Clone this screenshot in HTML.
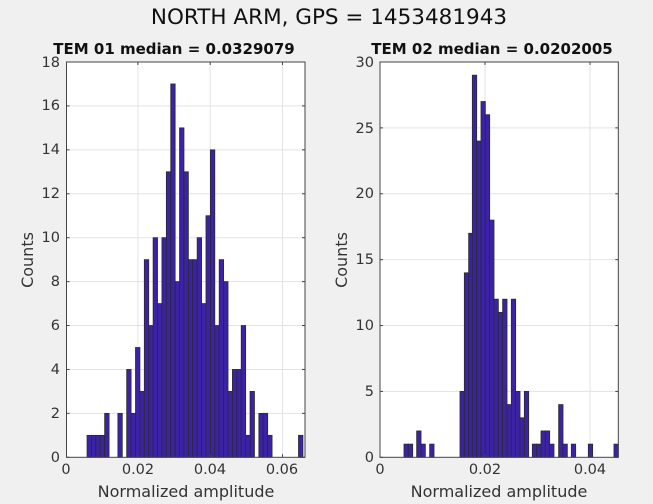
<!DOCTYPE html>
<html><head><meta charset="utf-8"><style>
html,body{margin:0;padding:0;background:#f0f0f0;}
svg{display:block;font-family:"DejaVu Sans","Liberation Sans",sans-serif;}
</style></head><body>
<svg id="s" width="653" height="504" viewBox="0 0 653 504">
<rect width="653" height="504" fill="#f0f0f0"/>
<text x="329" y="24" font-size="21.5" text-anchor="middle" fill="#111">NORTH ARM, GPS = 1453481943</text>
<text x="174" y="54" font-size="15" font-weight="bold" text-anchor="middle" fill="#111">TEM 01 median = 0.0329079</text>
<text x="492" y="54" font-size="15" font-weight="bold" text-anchor="middle" fill="#111">TEM 02 median = 0.0202005</text>
<g id="p1"></g><g id="p2"></g>
<g font-size="14.5" fill="#333" text-anchor="end">
<text x="60" y="462">0</text><text x="60" y="418">2</text><text x="60" y="374">4</text><text x="60" y="330">6</text><text x="60" y="286">8</text><text x="60" y="242">10</text><text x="60" y="198">12</text><text x="60" y="154">14</text><text x="60" y="110">16</text><text x="60" y="67">18</text>
<text x="374" y="462">0</text><text x="374" y="396">5</text><text x="374" y="330">10</text><text x="374" y="264">15</text><text x="374" y="198">20</text><text x="374" y="133">25</text><text x="374" y="67">30</text>
</g>
<g font-size="14.5" fill="#333" text-anchor="middle">
<text x="66" y="474">0</text><text x="138" y="474">0.02</text><text x="210" y="474">0.04</text><text x="282" y="474">0.06</text>
<text x="380" y="474">0</text><text x="485" y="474">0.02</text><text x="590" y="474">0.04</text>
<text x="186" y="497" font-size="16">Normalized amplitude</text>
<text x="499" y="497" font-size="16">Normalized amplitude</text>
</g>
<text transform="translate(33,260) rotate(-90)" font-size="16" fill="#333" text-anchor="middle">Counts</text>
<text transform="translate(347,260) rotate(-90)" font-size="16" fill="#333" text-anchor="middle">Counts</text>
</svg>
<script>
var NS="http://www.w3.org/2000/svg";
function el(g,t,a){var e=document.createElementNS(NS,t);for(var k in a)e.setAttribute(k,a[k]);g.appendChild(e);return e;}
function plot(id,L,R,T,B,ymax,ystep,xt,bars,z0,z1){
 var g=document.getElementById(id);
 el(g,"rect",{x:L,y:T,width:R-L,height:B-T,fill:"#fff"});
 var sy=(B-T)/ymax;
 for(var v=ystep;v<ymax;v+=ystep){var y=B-v*sy;el(g,"line",{x1:L,x2:R,y1:y,y2:y,stroke:"#e3e3e3","stroke-width":1});}
 xt.forEach(function(x){el(g,"line",{x1:x,x2:x,y1:T,y2:B,stroke:"#e3e3e3","stroke-width":1});});
 var sx=(R-L)/(z1-z0);
 bars.forEach(function(b){var x0=L+(b[0]-z0)*sx,x1=L+(b[1]-z0)*sx,h=b[2]*sy;
  el(g,"rect",{x:x0,y:B-h,width:x1-x0,height:h,fill:"#3b22a6",stroke:"#2b2b2b","stroke-width":0.8});});
 el(g,"rect",{x:L,y:T,width:R-L,height:B-T,fill:"none",stroke:"#444","stroke-width":1});
 for(var v=0;v<=ymax;v+=ystep){var y=B-v*sy;el(g,"line",{x1:L,x2:L+3,y1:y,y2:y,stroke:"#444"});el(g,"line",{x1:R-3,x2:R,y1:y,y2:y,stroke:"#444"});}
 xt.forEach(function(x){el(g,"line",{x1:x,x2:x,y1:B-3,y2:B,stroke:"#444"});el(g,"line",{x1:x,x2:x,y1:T,y2:T+3,stroke:"#444"});});
}
var c1=[[82,1],[95.3,1],[108.6,1],[121.9,1],[135.2,2],[175.1,2],[201.7,4],[215,2],[228.3,5],[241.6,3],[254.9,9],[268.2,6],[281.5,10],[294.8,7],[308.1,10],[321.4,13],[334.7,17],[348,8],[361.3,15],[374.6,13],[387.9,9],[401.2,9],[414.5,10],[427.8,7],[441.1,11],[454.4,14],[467.7,6],[481,9],[494.3,8],[507.6,3],[520.9,4],[534.2,4],[547.5,6],[560.8,1],[574.1,3],[600.7,2],[614,2],[627.3,1],[720.4,1]];
var b1=c1.map(function(c){return [c[0],c[0]+13.3,c[1]];});
plot("p1",66.5,305,62,457.3,18,2,[137.9,210.2,282.5],b1,20,740);
var c2=[[87,1],[100,1],[125,2],[138,1],[164,1],[255,5],[268,14],[281,17],[292,29],[305,24],[318,27],[331,26],[344,18],[357,12],[370,11],[383,12],[396,4],[409,12],[422,5],[435,3],[448,5],[472,1],[485,1],[498,2],[511,2],[524,1],[551,4],[564,1],[589,1],[640,1],[717,1]];
var b2=c2.map(function(c){return [c[0],c[0]+13.1,c[1]];});
plot("p2",380,618.3,62,457.3,30,5,[485,590],b2,15,730);
</script>
</body></html>
